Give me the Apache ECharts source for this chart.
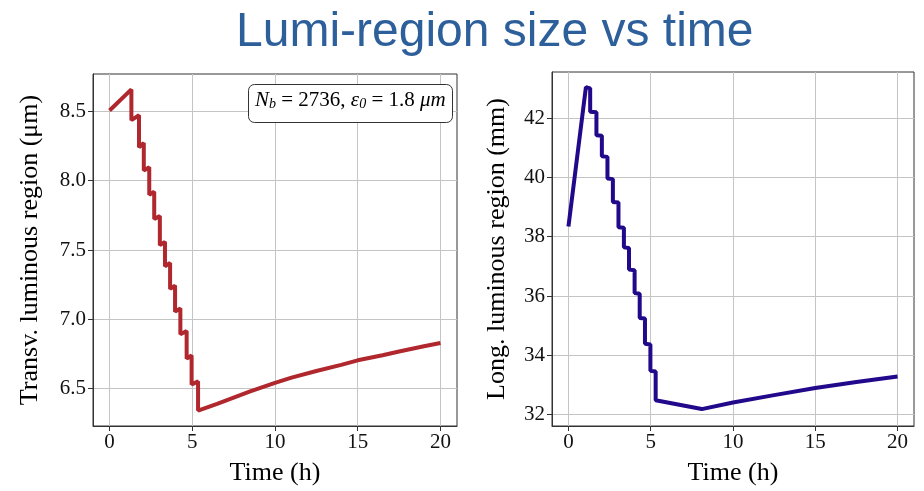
<!DOCTYPE html>
<html>
<head>
<meta charset="utf-8">
<title>Lumi-region size vs time</title>
<script src="https://cdn.jsdelivr.net/npm/echarts@6/dist/echarts.min.js"></script>
<style>
  html, body { margin: 0; padding: 0; background: #fff; }
  #chart { width: 924px; height: 491px; }
</style>
</head>
<body>
<div id="chart"></div>
<script>
// time (h) and transverse luminous region (um)
const transvTime = [0, 1.32, 1.32, 1.78, 1.78, 2.07, 2.07, 2.40, 2.40, 2.70, 2.70, 3.04, 3.04,
  3.35, 3.35, 3.66, 3.66, 3.96, 3.96, 4.28, 4.28, 4.66, 4.66, 4.96, 4.96, 5.35, 5.35,
  6.5, 7.5, 8.5, 10, 11, 12.5, 14, 15, 16.5, 17.5, 19, 20]
const transvSize = [8.507, 8.659, 8.437, 8.472, 8.242, 8.272, 8.074, 8.097, 7.898, 7.921, 7.723, 7.746, 7.535,
  7.559, 7.383, 7.407, 7.219, 7.243, 7.055, 7.079, 6.892, 6.915, 6.716, 6.739, 6.529, 6.552, 6.341,
  6.39, 6.435, 6.48, 6.541, 6.579, 6.627, 6.671, 6.704, 6.741, 6.768, 6.805, 6.829]

// time (h) and longitudinal luminous region (mm), right panel
const longTime = [0, 1.06, 1.32, 1.32, 1.70, 1.70, 2.03, 2.03, 2.37, 2.37, 2.70, 2.70, 3.04, 3.04,
  3.37, 3.37, 3.68, 3.68, 4.02, 4.02, 4.33, 4.33, 4.65, 4.65, 4.98, 4.98, 5.30, 5.30,
  8.1, 10, 12.5, 15, 17.5, 20]
const longSize = [38.34, 43.04, 43.0, 42.21, 42.19, 41.42, 41.40, 40.71, 40.69, 39.96, 39.94, 39.17, 39.15, 38.32,
  38.30, 37.64, 37.62, 36.89, 36.87, 36.10, 36.08, 35.26, 35.24, 34.39, 34.37, 33.48, 33.46, 32.49,
  32.19, 32.41, 32.66, 32.90, 33.10, 33.29]

const timeTicks = [0, 5, 10, 15, 20]
const transvTicks = [6.5, 7.0, 7.5, 8.0, 8.5]
const longTicks = [32, 34, 36, 38, 40, 42]

const serif = "'Liberation Serif', 'DejaVu Serif', serif"

const pairs = (xs, ys) => xs.map((x, i) => [x, ys[i]])

const xAxisFor = gridIndex => ({
  type: "value",
  gridIndex,
  min: -1,
  max: 21,
  name: "Time (h)",
  nameLocation: "middle",
  nameGap: 34,
  nameTextStyle: { fontFamily: serif, fontSize: 26, color: "#000" },
  axisLine: { show: true, onZero: false, lineStyle: { color: "#333", width: 1 } },
  axisTick: { show: true, length: 5, customValues: timeTicks, lineStyle: { color: "#333" } },
  axisLabel: { customValues: timeTicks, fontFamily: serif, fontSize: 21, color: "#111", margin: 6 },
  splitLine: { show: true, lineStyle: { color: "#c4c4c4", width: 1 } },
})

const yAxisFor = (gridIndex, name, min, max, ticks, digits, gap) => ({
  type: "value",
  gridIndex,
  min,
  max,
  name,
  nameLocation: "middle",
  nameGap: gap,
  nameTextStyle: { fontFamily: serif, fontSize: 26, color: "#000" },
  axisLine: { show: true, onZero: false, lineStyle: { color: "#333", width: 1 } },
  axisTick: { show: true, length: 5, customValues: ticks, lineStyle: { color: "#333" } },
  axisLabel: {
    customValues: ticks,
    fontFamily: serif,
    fontSize: 21,
    color: "#111",
    margin: 7,
    formatter: v => Number(v).toFixed(digits),
  },
  splitLine: { show: true, lineStyle: { color: "#c4c4c4", width: 1 } },
})

const option = {
  backgroundColor: "#fff",
  animation: false,
  title: {
    text: "Lumi-region size vs time",
    left: 231,
    top: 4,
    textStyle: {
      fontFamily: "'Liberation Sans', Arial, sans-serif",
      fontWeight: "normal",
      fontSize: 48,
      color: "#2d5f9b",
    },
  },
  grid: [
    { left: 93, top: 74, width: 364, height: 359, show: true, borderColor: "#333", borderWidth: 1, backgroundColor: "transparent" },
    { left: 552, top: 72, width: 362, height: 361, show: true, borderColor: "#333", borderWidth: 1, backgroundColor: "transparent" },
  ],
  xAxis: [xAxisFor(0), xAxisFor(1)],
  yAxis: [
    yAxisFor(0, "Transv. luminous region (μm)", 6.23, 8.77, transvTicks, 1, 50),
    yAxisFor(1, "Long. luminous region (mm)", 31.62, 43.55, longTicks, 0, 42),
  ],
  series: [
    {
      type: "line",
      xAxisIndex: 0,
      yAxisIndex: 0,
      data: pairs(transvTime, transvSize),
      showSymbol: false,
      lineStyle: { color: "#b0272e", width: 4 },
    },
    {
      type: "line",
      xAxisIndex: 1,
      yAxisIndex: 1,
      data: pairs(longTime, longSize),
      showSymbol: false,
      lineStyle: { color: "#22088a", width: 4 },
    },
  ],
  graphic: [
    {
      type: "rect",
      left: 248,
      top: 84,
      shape: { width: 204, height: 38, r: 6 },
      style: { fill: "#fff", stroke: "#333", lineWidth: 1 },
      z: 10,
    },
    {
      type: "text",
      left: 255,
      top: 90,
      z: 11,
      style: {
        text: "{i|N}{sub|b}{r| = 2736, }{i|ε}{sub|0}{r| = 1.8 }{i|μm}",
        rich: {
          i: { fontFamily: serif, fontStyle: "italic", fontSize: 21, color: "#000", verticalAlign: "bottom", lineHeight: 24 },
          r: { fontFamily: serif, fontSize: 21, color: "#000", verticalAlign: "bottom", lineHeight: 24 },
          sub: { fontFamily: serif, fontStyle: "italic", fontSize: 14, color: "#000", verticalAlign: "bottom", lineHeight: 19 },
        },
      },
    },
  ],
}

const chart = echarts.init(document.getElementById("chart"))
chart.setOption(option)
window.addEventListener("resize", () => chart.resize())
</script>
</body>
</html>
